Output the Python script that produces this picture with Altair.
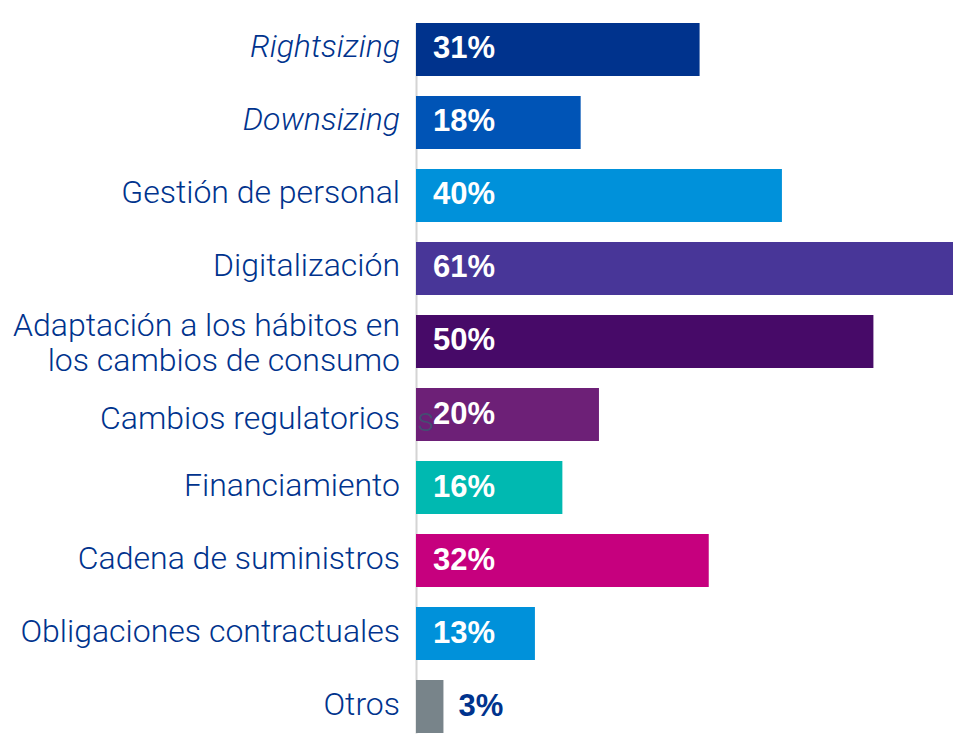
import altair as alt
import pandas as pd

categories = [
    "Rightsizing", "Downsizing", "Gestión de personal", "Digitalización",
    "Adaptación a los hábitos en los cambios de consumo", "Cambios regulatorios",
    "Financiamiento", "Cadena de suministros", "Obligaciones contractuales", "Otros",
]
labels = [
    "Rightsizing", "Downsizing", "Gestión de personal", "Digitalización",
    "Adaptación a los hábitos en\nlos cambios de consumo", "Cambios regulatorios",
    "Financiamiento", "Cadena de suministros", "Obligaciones contractuales", "Otros",
]
values = [31, 18, 40, 61, 50, 20, 16, 32, 13, 3]
colors = ["#00338D", "#0054B6", "#0091DA", "#483698", "#470A68",
          "#6D2077", "#00B9B1", "#C6007E", "#0091DA", "#78848A"]
styles = ["italic", "italic", "normal", "normal", "twoline",
          "low", "normal", "normal", "normal", "normal"]
stray_text = ["", "", "", "", "", "s", "", "", "", ""]

df = pd.DataFrame({
    "cat": categories,
    "label": labels,
    "value": values,
    "color": colors,
    "style": styles,
    "stray": stray_text,
    "pct": [f"{v}%" for v in values],
})

TXT = "#00338D"

y = alt.Y(
    "cat:N", sort=categories, title=None,
    axis=alt.Axis(labels=False, ticks=False, grid=False,
                  domainColor="#d4d4d4", domainWidth=2),
    scale=alt.Scale(range=[11, 721], paddingInner=0.274, paddingOuter=0),
)
x = alt.X("value:Q", scale=alt.Scale(domain=[0, 58.7]), axis=None)

base = alt.Chart(df)

bars = base.mark_bar(clip=True).encode(
    x=x, y=y, color=alt.Color("color:N", scale=None)
)

inside = base.transform_filter("datum.value >= 5").mark_text(
    align="left", baseline="middle", dy=0, font="Liberation Sans",
    fontWeight="bold", fontSize=31, color="white",
).encode(x=alt.value(17), y=y, text="pct:N")

outside = base.transform_filter("datum.value < 5").mark_text(
    align="left", baseline="middle", dy=0, dx=15, font="Liberation Sans",
    fontWeight="bold", fontSize=31, color=TXT,
).encode(x=x, y=y, text="pct:N")

lab_kw = dict(align="right", baseline="middle", font="Roboto", fontWeight=300,
              fontSize=32, color=TXT)

lab_normal = base.transform_filter("datum.style == 'normal'").mark_text(
    dy=-2, **lab_kw
).encode(x=alt.value(-16), y=y, text="label:N")

lab_low = base.transform_filter("datum.style == 'low'").mark_text(
    dy=4, **lab_kw
).encode(x=alt.value(-16), y=y, text="label:N")

lab_two = base.transform_filter("datum.style == 'twoline'").mark_text(
    dy=-15, lineBreak="\n", lineHeight=35, **lab_kw
).encode(x=alt.value(-16), y=y, text="label:N")

lab_italic = base.transform_filter("datum.style == 'italic'").mark_text(
    dy=-2, fontStyle="italic", **lab_kw
).encode(x=alt.value(-16), y=y, text="label:N")

stray = base.transform_filter("datum.stray != ''").mark_text(
    align="left", baseline="middle", dy=6, font="Roboto", fontWeight=300,
    fontSize=34, color="#454C72",
).encode(x=alt.value(1), y=y, text="stray:N")

chart = alt.layer(bars, inside, outside, lab_normal, lab_low, lab_two,
                  lab_italic, stray).properties(
    width=537, height=723,
    padding={"left": 408, "top": 4, "right": 0, "bottom": 0},
    autosize=alt.AutoSizeParams(type="none"),
).configure_view(stroke=None)

chart.save("out.html", embed_options={"renderer": "svg", "actions": False})
